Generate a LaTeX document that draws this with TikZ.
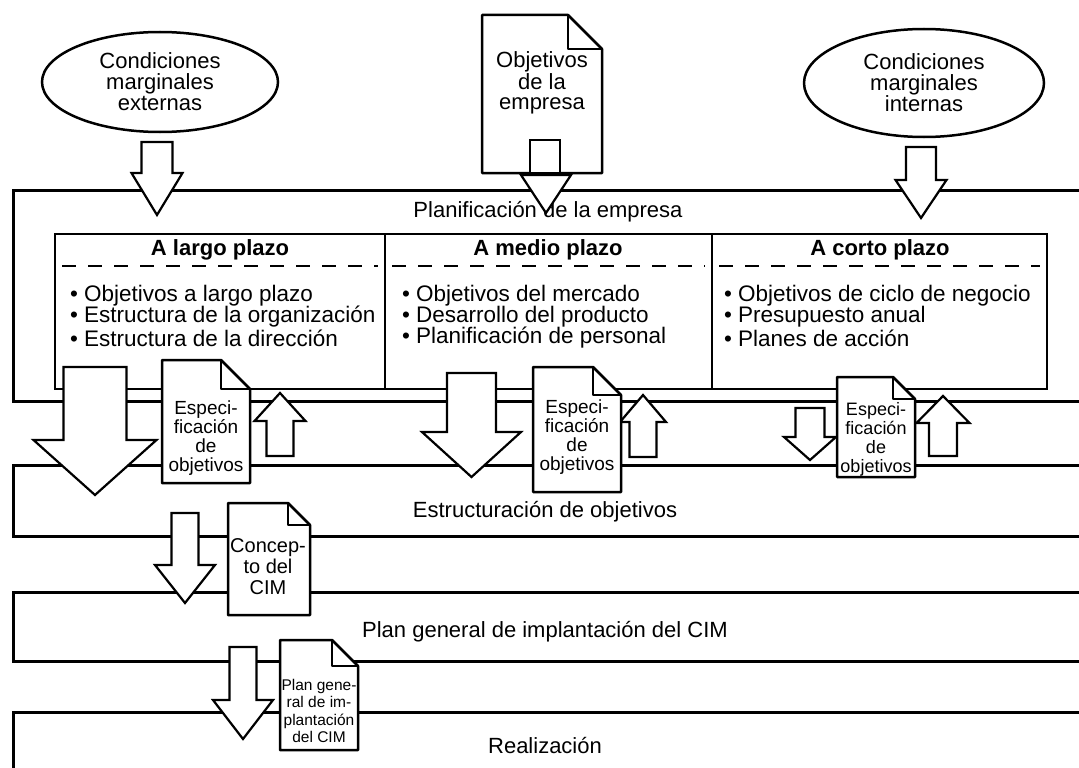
\documentclass[tikz,border=0pt]{standalone}
\usepackage{fontspec}
\setmainfont{Liberation Sans}
\usetikzlibrary{shapes.geometric}

% block arrow: centre x, stem end y, stem half width, head base y, head half width, tip y
\newcommand\BlockArrow[6]{%
  \filldraw[blk] ({#1-#3},#2) -- ({#1+#3},#2) -- ({#1+#3},#4) -- ({#1+#5},#4)
    -- (#1,#6) -- ({#1-#5},#4) -- ({#1-#3},#4) -- cycle;}
% sheet with a folded corner: x1, y1, x2, y2, fold size
\newcommand\DocSheet[5]{%
  \filldraw[docshape] (#1,#2) -- ({#3-#5},#2) -- (#3,{#2+#5}) -- (#3,#4) -- (#1,#4) -- cycle;
  \draw[docshape, fill=none] ({#3-#5},#2) -- ({#3-#5},{#2+#5}) -- (#3,{#2+#5});}

\begin{document}
\begin{tikzpicture}[x=1pt,y=-1pt,
  every node/.style={inner sep=0pt, outer sep=0pt},
  bandline/.style={line width=3pt},
  boxline/.style={line width=2.8pt},
  sepline/.style={line width=2pt, dash pattern=on 14pt off 12pt},
  blk/.style={draw, fill=white, line width=2.2pt, line join=miter},
  docshape/.style={draw, fill=white, line width=2.5pt, line join=round},
  bandtext/.style={font=\fontsize{22}{24}\selectfont},
  titletext/.style={font=\bfseries\fontsize{22}{24}\selectfont},
  itemtext/.style={font=\fontsize{22.5}{24}\selectfont, anchor=west},
  bubble/.style={ellipse, draw, line width=2.5pt, fill=white, align=center,
    font=\fontsize{22}{21}\selectfont},
  doctext/.style={align=center},
]
\useasboundingbox (0,0) rectangle (1079,768);

% horizontal bands, open to the right
\draw[bandline] (1079,190) -- (13,190) -- (13,401) -- (1079,401);
\draw[bandline] (1079,465) -- (13,465) -- (13,536) -- (1079,536);
\draw[bandline] (1079,592) -- (13,592) -- (13,661) -- (1079,661);
\draw[bandline] (1079,712) -- (13,712) -- (13,768);

\node[bandtext] (plan) at (548,212) {Planificación de la empresa};
\node[bandtext] (estr) at (545,512) {Estructuración de objetivos};
\node[bandtext] (impl) at (545,632) {Plan general de implantación del CIM};
\node[bandtext] (real) at (545,745) {Realización};

% planning horizons
\draw[boxline] (55,234) rectangle (1047,389);
\draw[boxline] (385,234) -- (385,389);
\draw[boxline] (712,234) -- (712,389);
\draw[sepline] (62,266) -- (378,266);
\draw[sepline] (392,266) -- (705,266);
\draw[sepline] (719,266) -- (1040,266);

\node[titletext] (largo) at (220,250) {A largo plazo};
\node[titletext] (medio) at (548,250) {A medio plazo};
\node[titletext] (corto) at (880,250) {A corto plazo};

\node[itemtext] (l1) at (70,296) {• Objetivos a largo plazo};
\node[itemtext] (l2) at (70,317) {• Estructura de la organización};
\node[itemtext] (l3) at (70,338) {• Estructura de la dirección};
\node[itemtext] (m1) at (402,296) {• Objetivos del mercado};
\node[itemtext] (m2) at (402,317) {• Desarrollo del producto};
\node[itemtext] (m3) at (402,338) {• Planificación de personal};
\node[itemtext] (c1) at (724,296) {• Objetivos de ciclo de negocio};
\node[itemtext] (c2) at (724,317) {• Presupuesto anual};
\node[itemtext] (c3) at (724,338) {• Planes de acción};

% inputs at the top
\node[bubble, minimum width=236pt, minimum height=100pt] (ext) at (160,82)
  {Condiciones\\marginales\\externas};
\node[bubble, minimum width=240pt, minimum height=108pt] (int) at (924,83)
  {Condiciones\\marginales\\internas};
\BlockArrow{157}{142}{15.5}{173}{25.5}{215}
\BlockArrow{921}{147}{15}{180}{25.5}{218}

\DocSheet{482}{15}{602}{173}{34}
\node[doctext, font=\fontsize{22}{20}\selectfont] (obj) at (542,83) {Objetivos\\de la\\empresa};
\draw[blk] (530,140) rectangle (560,173);
\filldraw[blk] (521,175) -- (571,175) -- (546,213) -- cycle;

% between planning and structuring
\BlockArrow{95}{367}{31.5}{440}{61.5}{495}
\DocSheet{162}{360}{250}{483}{29}
\node[doctext, font=\fontsize{19}{19}\selectfont] (spec1) at (206,438) {Especi-\\ficación\\de\\objetivos};
\BlockArrow{280}{456}{13.5}{421}{25.5}{393}

\BlockArrow{471.5}{373}{24.5}{432}{49.5}{477}
\BlockArrow{643}{457}{13.5}{422}{23}{395}
\DocSheet{533}{367}{621}{492}{28}
\node[doctext, font=\fontsize{19}{19}\selectfont] (spec2) at (577,437) {Especi-\\ficación\\de\\objetivos};

\BlockArrow{810}{408}{14.5}{437}{26}{460}
\DocSheet{837}{377}{915}{477}{22}
\node[doctext, font=\fontsize{18}{19}\selectfont] (spec3) at (876,439) {Especi-\\ficación\\de\\objetivos};
\BlockArrow{943}{456}{14}{423}{26.5}{396}

% structuring to implementation plan
\BlockArrow{185}{513}{13.5}{565}{30}{603}
\DocSheet{228}{503}{310}{615}{22}
\node[doctext, font=\fontsize{20}{21}\selectfont] (cim) at (268,567) {Concep-\\to del\\CIM};

% implementation plan to realisation
\BlockArrow{243}{647}{13.5}{700}{30}{739}
\DocSheet{280}{640}{358}{750}{26}
\node[doctext, font=\fontsize{15.5}{17.5}\selectfont] (plandoc) at (319,711) {Plan gene-\\ral de im-\\plantación\\del CIM};
\end{tikzpicture}
\end{document}
